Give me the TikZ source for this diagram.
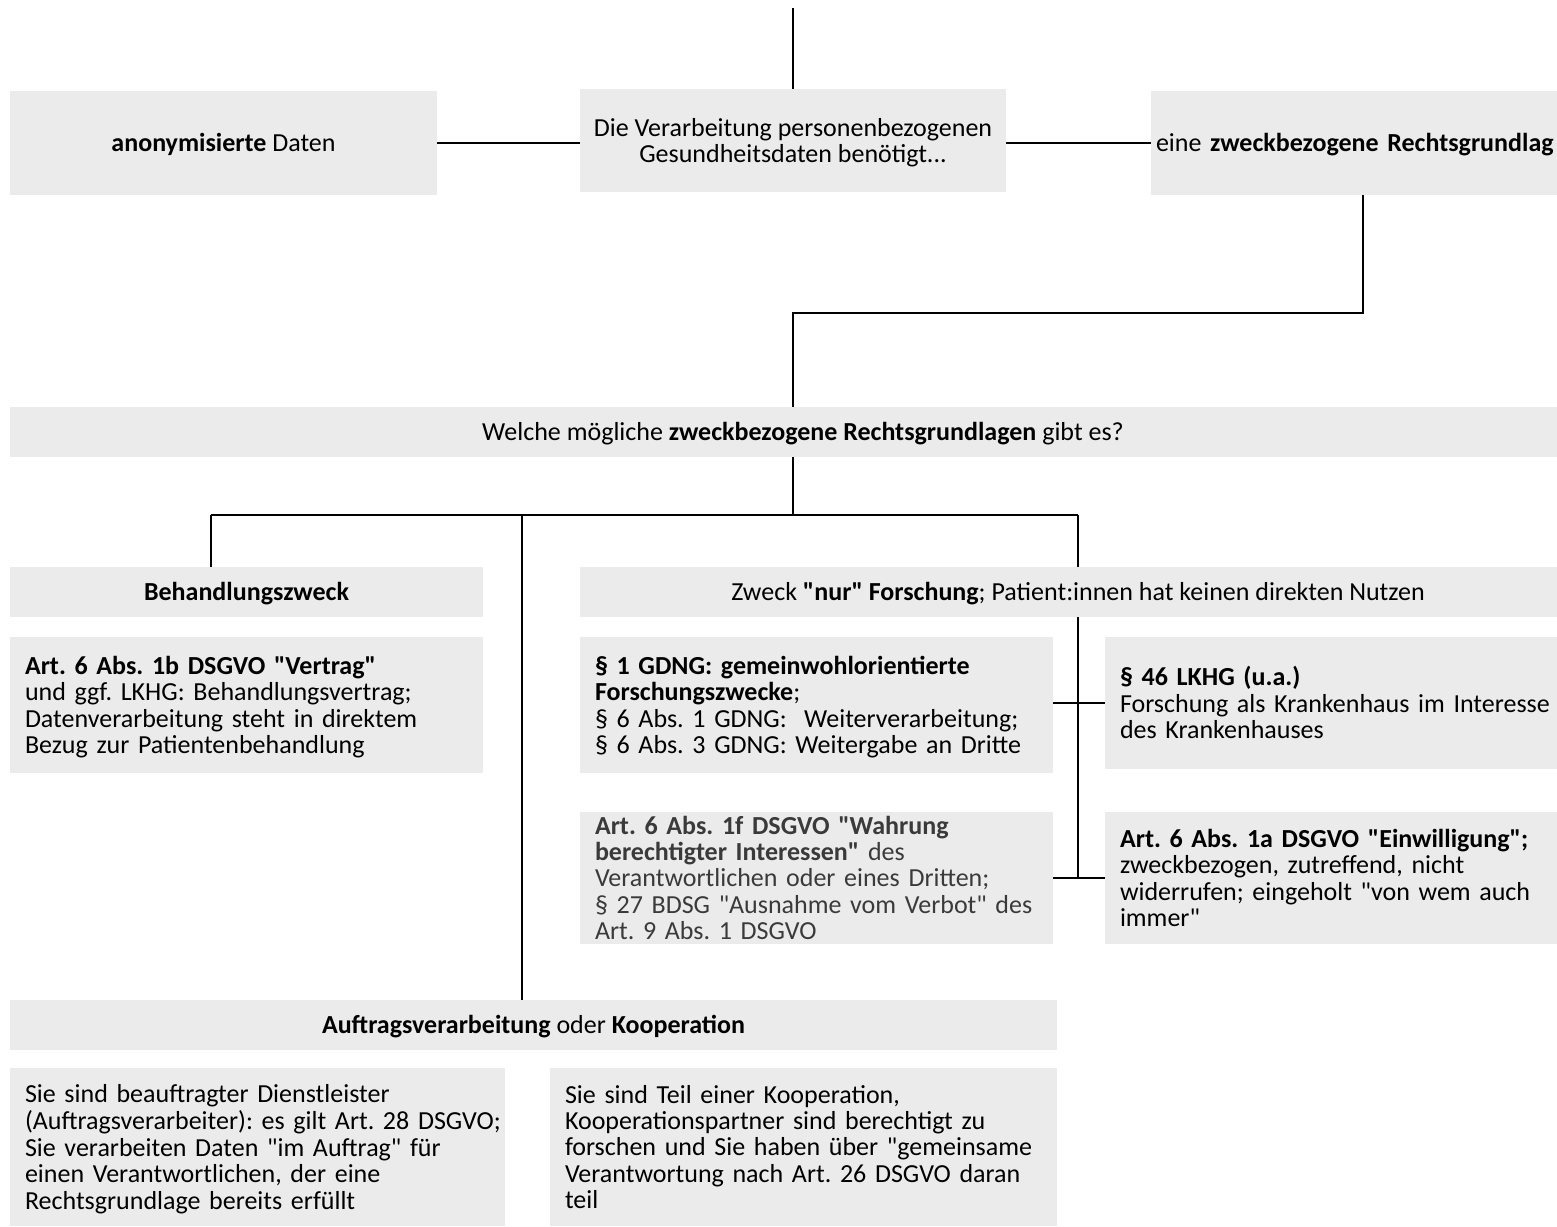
\documentclass[tikz,border=0pt]{standalone}
\usepackage{fontspec}
\setmainfont{Carlito}[Ligatures=TeXOff]
\frenchspacing
\setlength{\parindent}{0pt}
\definecolor{boxgray}{RGB}{235,235,235}
\definecolor{softtext}{RGB}{58,58,58}
% a block of lines, set a little lower than its geometric centre
\newcommand\blk[2][l]{\raisebox{-3.7pt}[\height][\depth]{\begin{tabular}{@{}#1@{}}#2\end{tabular}}}
\begin{document}
\begin{tikzpicture}[x=1pt,y=-1pt,
  box/.style={fill=boxgray, draw=none, inner sep=0pt, font=\fontsize{26}{26.4}\selectfont},
  cbox/.style={box},
  lbox/.style={box, align=left, inner xsep=15pt},
  link/.style={draw=black, line width=2pt}]
\useasboundingbox (0,0) rectangle (1557,1226);
\clip (0,0) rectangle (1557,1226);

% first row
\node[cbox, minimum width=427pt, minimum height=104pt] (anon) at (223.5,143)
  {\blk[c]{\textbf{anonymisierte} Daten}};
\node[cbox, minimum width=426pt, minimum height=103pt] (verarb) at (793,140.5)
  {\blk[c]{Die Verarbeitung personenbezogenen\\Gesundheitsdaten benötigt...}};
\node[box, align=left, inner xsep=5pt, text width=414pt, minimum width=424pt, minimum height=104pt] (rg) at (1363,143)
  {\blk{eine \textbf{zweckbezogene Rechtsgrundlag}}};

% question bar
\node[cbox, minimum width=1586pt, minimum height=50pt] (welche) at (803,432)
  {\blk[c]{Welche mögliche \textbf{zweckbezogene Rechtsgrundlagen} gibt es?}};

% purposes
\node[cbox, minimum width=473pt, minimum height=50pt] (behz) at (246.5,592)
  {\blk[c]{\textbf{Behandlungszweck}}};
\node[cbox, minimum width=996pt, minimum height=50pt] (zweck) at (1078,592)
  {\blk[c]{Zweck \textbf{"nur" Forschung}; Patient:innen hat keinen direkten Nutzen}};

\node[lbox, text width=443pt, minimum width=473pt, minimum height=136pt] (art1b) at (246.5,705)
  {\blk{\textbf{Art. 6 Abs. 1b DSGVO "Vertrag"}\\und ggf. LKHG: Behandlungsvertrag;\\Datenverarbeitung steht in direktem\\Bezug zur Patientenbehandlung}};

\node[lbox, text width=443pt, minimum width=473pt, minimum height=136pt] (gdng) at (816.5,705)
  {\blk{\textbf{§ 1 GDNG: gemeinwohlorientierte}\\\textbf{Forschungszwecke};\\§ 6 Abs. 1 GDNG:\ \ Weiterverarbeitung;\\§ 6 Abs. 3 GDNG: Weitergabe an Dritte}};
\node[lbox, text width=445pt, minimum width=475pt, minimum height=132pt] (lkhg) at (1342.5,703)
  {\blk{\textbf{§ 46 LKHG (u.a.)}\\Forschung als Krankenhaus im Interesse\\des Krankenhauses}};

\node[lbox, text width=443pt, minimum width=473pt, minimum height=132pt, text=softtext] (art1f) at (816.5,878)
  {\blk{\textbf{Art. 6 Abs. 1f DSGVO "Wahrung}\\\textbf{berechtigter Interessen"} des\\Verantwortlichen oder eines Dritten;\\§ 27 BDSG "Ausnahme vom Verbot" des\\Art. 9 Abs. 1 DSGVO}};
\node[lbox, text width=445pt, minimum width=475pt, minimum height=132pt] (art1a) at (1342.5,878)
  {\blk{\textbf{Art. 6 Abs. 1a DSGVO "Einwilligung";}\\zweckbezogen, zutreffend, nicht\\widerrufen; eingeholt "von wem auch\\immer"}};

% processing on behalf / cooperation
\node[cbox, minimum width=1047pt, minimum height=50pt] (auftrag) at (533.5,1025)
  {\blk[c]{\textbf{Auftragsverarbeitung} oder \textbf{Kooperation}}};
\node[lbox, text width=465pt, minimum width=495pt, minimum height=158pt] (dienst) at (257.5,1147)
  {\blk{Sie sind beauftragter Dienstleister\\(Auftragsverarbeiter): es gilt Art. 28 DSGVO;\\Sie verarbeiten Daten "im Auftrag" für\\einen Verantwortlichen, der eine\\Rechtsgrundlage bereits erfüllt}};
\node[lbox, text width=477pt, minimum width=507pt, minimum height=158pt] (koop) at (803.5,1147)
  {\blk{Sie sind Teil einer Kooperation,\\Kooperationspartner sind berechtigt zu\\forschen und Sie haben über "gemeinsame\\Verantwortung nach Art. 26 DSGVO daran\\teil}};

% connectors
\coordinate (entry) at (793,8);
\coordinate (j1) at (793,313);
\coordinate (bl) at (211,515);
\coordinate (bm) at (522,515);
\coordinate (br) at (1078,515);

\draw[link] (entry) -- (verarb.north);
\draw[link] (anon.east) -- (anon.east -| verarb.west);
\draw[link] (verarb.east |- rg.west) -- (rg.west);
\draw[link] (rg.south) |- (j1) -- (j1 |- welche.north);
\draw[link] (welche.south -| j1) -- (j1 |- bl);
\draw[link] (bl) -- (br);
\draw[link] (bl) -- (bl |- behz.north);
\draw[link] (bm) -- (bm |- auftrag.north);
\draw[link] (br) -- (zweck.north -| br);
\draw[link] (zweck.south) -- (zweck.south |- art1f.east);
\draw[link] (gdng.east |- lkhg.west) -- (lkhg.west);
\draw[link] (art1f.east) -- (art1a.west);
\end{tikzpicture}
\end{document}
